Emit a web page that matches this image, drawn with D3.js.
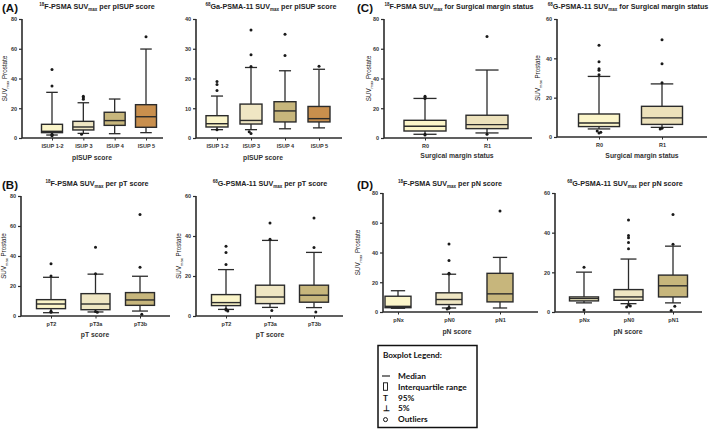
<!DOCTYPE html>
<html><head><meta charset="utf-8">
<script src="https://cdn.jsdelivr.net/npm/d3@7"></script>
<style>
html,body{margin:0;padding:0;background:#fff;}
svg{display:block;font-family:"Liberation Sans",Arial,sans-serif;}
</style></head>
<body><svg id="c" width="709" height="429"></svg>
<script>
// ---------- categories ----------
const isupCats = ["ISUP 1-2","ISUP 3","ISUP 4","ISUP 5"];
const ptCats = ["pT2","pT3a","pT3b"];
const marginCats = ["R0","R1"];
const pnCats = ["pNx","pN0","pN1"];

// ---------- box stats: [5%, Q1, median, Q3, 95%] ----------
const f18Isup = [[2,3.6,4.5,9.2,30.7],[3.1,5.4,7.4,11.2,23.7],[2.9,8.5,11.7,17.3,26.2],[3.6,7.2,14.3,22.4,59.8]];
const f18IsupOut = [[46,35,2.5,2,1.5],[28,27,26,2.5],[],[68]];
const ga68Isup = [[2.8,3.7,4.8,7.5,14.1],[2.8,4.7,5.9,11.4,23.7],[3.1,5.4,9.1,12.2,22.6],[3.4,5.4,6.5,10.6,23.1]];
const ga68IsupOut = [[19,18,16,2.8],[36.3,28,24,2.1,1.5],[34.9,27.7],[24.1]];

const f18Margin = [[2.5,4.7,7.9,11.9,26.6],[3.4,6.3,9.0,15.3,45.7]];
const f18MarginOut = [[28,27,26.5,2.5,2],[68.3,2.5]];
const ga68Margin = [[4.1,5.3,7.1,11.7,30.8],[4.9,6.4,9.7,15.6,27]];
const ga68MarginOut = [[46.6,38.3,34.7,34,31.7,2.4,3,2],[49.5,37.3,27.6,4.1,4.5]];

const f18Pt = [[2.2,4.9,8.0,10.9,25.8],[2.7,4.2,8.0,14.9,27.9],[3.3,7.1,10.7,15.6,26.5]];
const f18PtOut = [[34.8,26.7,3.1,2.5],[45.9,28.1,2.5,3],[67.7,32.5,1.1]];
const ga68Pt = [[3.3,5.2,6.7,10.7,23.2],[4.3,6.2,9.5,15.4,37.8],[4.2,6.9,10.4,15.4,31.8]];
const ga68PtOut = [[34.9,31.8,25.7,3.5,3,2.5],[46.5,38.4,2.7],[49,34.3,2]];

const f18Pn = [[2.5,2.9,3.8,10.6,14.3],[2.7,5.0,8.4,12.9,25.4],[2.7,6.8,12.2,26.0,36.7]];
const f18PnOut = [[],[45.7,34.6,26,25.5,2.5,3,2],[67.9]];
const ga68Pn = [[4.6,5.6,6.8,7.6,20.1],[4.2,5.9,7.6,11.3,26.7],[4.6,7.6,13.2,18.6,33.2]];
const ga68PnOut = [[22.6,1],[46.4,38.6,37.5,35.1,31.9,3,2.5,3.5],[49.1,34.1,2.9,0.8]];

// ---------- colours ----------
const isupFills = ["#fbf5c9","#efe6c3","#c7b67c","#c98f4d"];
const ptFills = ["#fbf5c9","#efe6c3","#c7b67c"];
const marginFills = ["#fbf5c9","#ece1bb"];
const pnFills = ["#fbf5c9","#efe6c3","#c7b67c"];

const legendItems = [["—","Median"],["▯","Interquartile range"],["T","95%"],["⊥","5%"],["o","Outliers"]];

// ---------- panel layout ----------
const panels = [
 {stats:f18Isup,out:f18IsupOut,cats:isupCats,fills:isupFills,x0:22,x1:163,y0:19,y1:138,max:80,step:20,range:[52,146],bw:21,
  iso:"18",pre:"F-PSMA SUV",post:" per pISUP score",tx:97,ty:9,letter:"(A)",ylab:7,xt:"pISUP score",xtx:92,catY:147.5,xtY:160},
 {stats:ga68Isup,out:ga68IsupOut,cats:isupCats,fills:isupFills,x0:196,x1:342,y0:19,y1:138,max:40,step:10,range:[217,319],bw:22,
  iso:"68",pre:"Ga-PSMA-11 SUV",post:" per pISUP score",tx:271,ty:9,ylab:null,xt:"pISUP score",xtx:263,catY:147.5,xtY:160},
 {stats:f18Margin,out:f18MarginOut,cats:marginCats,fills:marginFills,x0:384,x1:532,y0:19,y1:138,max:80,step:20,range:[425,487],bw:42,
  iso:"18",pre:"F-PSMA SUV",post:" for Surgical margin status",tx:459,ty:9,letter:"(C)",lx:357,ylab:371,xt:"Surgical margin status",xtx:457,catY:147.5,xtY:158},
 {stats:ga68Margin,out:ga68MarginOut,cats:marginCats,fills:marginFills,x0:557,x1:707,y0:19,y1:137,max:60,step:20,range:[599,662],bw:41,
  iso:"68",pre:"G-PSMA-11 SUV",post:" for Surgical margin status",tx:628,ty:9,ylab:540,xt:"Surgical margin status",xtx:642,catY:146.5,xtY:158},
 {stats:f18Pt,out:f18PtOut,cats:ptCats,fills:ptFills,x0:21,x1:170,y0:196,y1:316,max:80,step:20,range:[51,140],bw:29,
  iso:"18",pre:"F-PSMA SUV",post:" per pT score",tx:97,ty:186,letter:"(B)",lx:2,ylab:6,xt:"pT score",xtx:95,catY:325.5,xtY:337},
 {stats:ga68Pt,out:ga68PtOut,cats:ptCats,fills:ptFills,x0:196,x1:343,y0:196,y1:316,max:60,step:20,range:[226,314],bw:29,
  iso:"68",pre:"G-PSMA-11 SUV",post:" per pT score",tx:270,ty:186,ylab:181,xt:"pT score",xtx:270,catY:325.5,xtY:337},
 {stats:f18Pn,out:f18PnOut,cats:pnCats,fills:pnFills,x0:383,x1:538,y0:193,y1:312,max:80,step:20,range:[398,500],bw:26,
  iso:"18",pre:"F-PSMA SUV",post:" per pN score",tx:450,ty:186,letter:"(D)",lx:357,ylab:360,xt:"pN score",xtx:457,catY:322,xtY:334},
 {stats:ga68Pn,out:ga68PnOut,cats:pnCats,fills:pnFills,x0:555,x1:702,y0:193,y1:312,max:60,step:20,range:[584,673],bw:29,
  iso:"68",pre:"G-PSMA-11 SUV",post:" per pN score",tx:625,ty:186,ylab:null,xt:"pN score",xtx:628,catY:322,xtY:334}
];

const svg = d3.select("#c");
const ink = "#2b2b2b";

panels.forEach(p => {
  const g = svg.append("g");
  const y = d3.scaleLinear().domain([0,p.max]).range([p.y1,p.y0]);
  const x = d3.scalePoint().domain(p.cats).range(p.range);

  // y axis
  const ticks = d3.range(0,p.max+0.001,p.step);
  const ya = g.append("g").attr("transform",`translate(${p.x0},0)`)
    .call(d3.axisLeft(y).tickValues(ticks).tickSize(3).tickFormat(d3.format("d")));
  ya.select(".domain").attr("stroke",ink).attr("stroke-width",1.6).attr("d",`M-0,${p.y0}V${p.y1}`);
  ya.selectAll(".tick line").attr("stroke",ink).attr("stroke-width",1.2);
  ya.selectAll(".tick text").attr("font-size",5.5).attr("font-weight","bold").attr("fill","#333").attr("x",-5);

  // x axis
  const xa = g.append("g").attr("transform",`translate(0,${p.y1})`)
    .call(d3.axisBottom(x).tickSize(0));
  xa.select(".domain").attr("stroke",ink).attr("stroke-width",1.6).attr("d",`M${p.x0},0H${p.x1}`);
  xa.selectAll(".tick text").attr("font-size",5.5).attr("font-weight","bold").attr("fill","#333")
    .attr("y",p.catY-p.y1).attr("dy","0");
  xa.selectAll(".tick").append("line").attr("y1",0).attr("y2",2.5).attr("stroke",ink).attr("stroke-width",1);

  // boxes
  p.cats.forEach((c,i) => {
    const [lo,q1,md,q3,hi] = p.stats[i];
    const cx = x(c), bw = p.bw, cap = bw*0.55;
    g.append("line").attr("x1",cx).attr("x2",cx).attr("y1",y(hi)).attr("y2",y(q3)).attr("stroke",ink).attr("stroke-width",1.3);
    g.append("line").attr("x1",cx).attr("x2",cx).attr("y1",y(q1)).attr("y2",y(lo)).attr("stroke",ink).attr("stroke-width",1.3);
    g.append("line").attr("x1",cx-cap/2).attr("x2",cx+cap/2).attr("y1",y(hi)).attr("y2",y(hi)).attr("stroke",ink).attr("stroke-width",1.3);
    g.append("line").attr("x1",cx-cap/2).attr("x2",cx+cap/2).attr("y1",y(lo)).attr("y2",y(lo)).attr("stroke",ink).attr("stroke-width",1.3);
    g.append("rect").attr("x",cx-bw/2).attr("width",bw).attr("y",y(q3)).attr("height",y(q1)-y(q3))
      .attr("fill",p.fills[i]).attr("stroke",ink).attr("stroke-width",1.4);
    g.append("line").attr("x1",cx-bw/2).attr("x2",cx+bw/2).attr("y1",y(md)).attr("y2",y(md)).attr("stroke",ink).attr("stroke-width",1.4);
    p.out[i].forEach((v,k) => {
      g.append("circle").attr("cx",cx + ((k%3)-1)*1.8*(v<lo?1:0)).attr("cy",y(v)).attr("r",1.5).attr("fill","#1a1a1a");
    });
  });

  // title
  const t = g.append("text").attr("x",p.tx).attr("y",p.ty).attr("text-anchor","middle")
    .attr("font-size",7.2).attr("font-weight","bold").attr("fill","#222");
  t.append("tspan").text(p.iso).attr("font-size",4.5).attr("dy",-3);
  t.append("tspan").text(p.pre).attr("dy",3);
  t.append("tspan").text("max").attr("font-size",4.5).attr("dy",1.5);
  t.append("tspan").text(p.post).attr("dy",-1.5);

  if (p.letter) {
    g.append("text").attr("x",p.lx===undefined?2:p.lx).attr("y",p.ty+2.5).attr("font-size",11.5).attr("font-weight","bold")
      .attr("fill","#111").text(p.letter);
  }

  // y label
  if (p.ylab !== null) {
    const yl = g.append("text").attr("transform",`translate(${p.ylab},${(p.y0+p.y1)/2}) rotate(-90)`)
      .attr("text-anchor","middle").attr("font-size",6.3).attr("fill","#222");
    yl.append("tspan").text("SUV");
    yl.append("tspan").text("max").attr("font-size",4).attr("dy",1.5);
    yl.append("tspan").text(" Prostate").attr("dy",-1.5);
  }

  // x title
  g.append("text").attr("x",p.xtx).attr("y",p.xtY).attr("text-anchor","middle")
    .attr("font-size",6.8).attr("font-weight","bold").attr("fill","#333").text(p.xt);
});

// legend box
const lg = svg.append("g").attr("font-family","Lato, 'Open Sans', sans-serif");
lg.append("rect").attr("x",378).attr("y",345.5).attr("width",99).attr("height",82).attr("fill","#fff")
  .attr("stroke","#111").attr("stroke-width",1.5);
lg.append("text").attr("x",383).attr("y",358).attr("font-size",8.2).attr("font-weight","bold").attr("fill","#111").text("Boxplot Legend:");
legendItems.forEach((d,i) => {
  const yy = 379 + i*10.8;
  if (i===0) {
    lg.append("line").attr("x1",382).attr("x2",390).attr("y1",yy-3).attr("y2",yy-3).attr("stroke","#111").attr("stroke-width",1.1);
  } else if (i===1) {
    lg.append("rect").attr("x",383.5).attr("y",yy-7).attr("width",4).attr("height",7.5).attr("fill","none").attr("stroke","#111").attr("stroke-width",0.9);
  } else if (i===4) {
    lg.append("circle").attr("cx",385.5).attr("cy",yy-2.6).attr("r",2).attr("fill","none").attr("stroke","#111").attr("stroke-width",1);
  } else {
    lg.append("text").attr("x",383).attr("y",yy).attr("font-size",8.3).attr("font-weight","bold").attr("fill","#111").text(d[0]);
  }
  lg.append("text").attr("x",398).attr("y",yy).attr("font-size",8.3).attr("font-weight","bold").attr("fill","#111").text(d[1]);
});
</script></body></html>
